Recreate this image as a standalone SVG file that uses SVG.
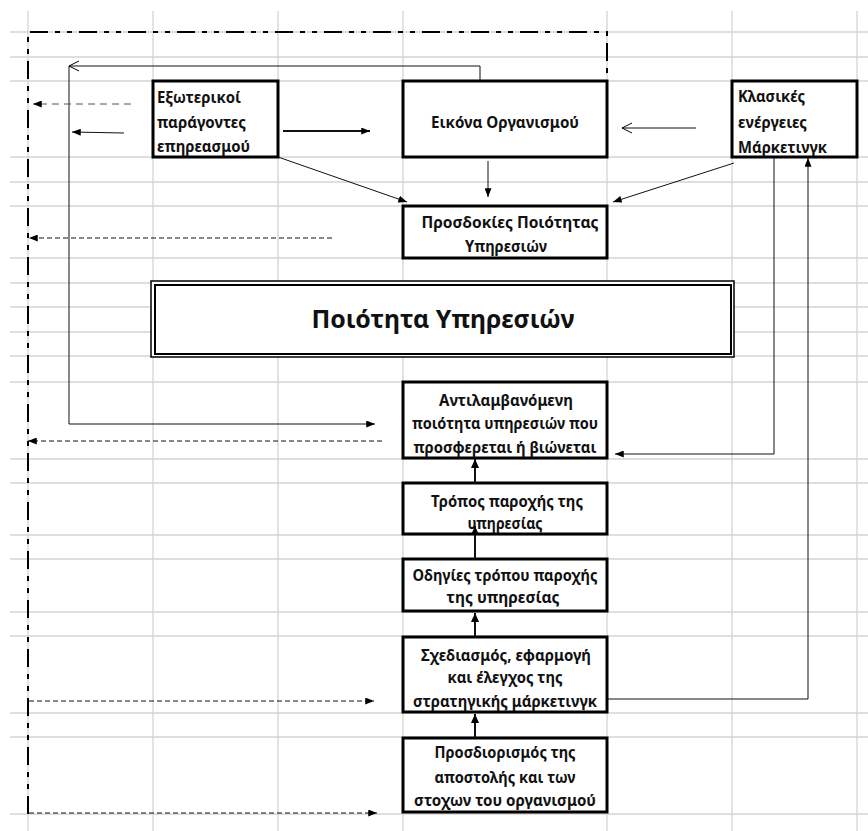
<svg xmlns="http://www.w3.org/2000/svg" width="868" height="831" viewBox="0 0 868 831">
  <style>
    .grid line { stroke: #d4d4d4; stroke-width: 1.3; }
    .box { fill: #ffffff; stroke: #000000; stroke-width: 3; }
    .t { font-family: "Noto Sans", "Open Sans", "DejaVu Sans", sans-serif; font-weight: bold; font-size: 15.5px; fill: #111111; }
    .c { text-anchor: middle; }
    .title { font-family: "Noto Sans", "Open Sans", "DejaVu Sans", sans-serif; font-weight: bold; font-size: 25px; fill: #111111; text-anchor: middle; }
    .conn { fill: none; stroke: #111111; stroke-width: 1; }
    .thick { stroke-width: 2; }
    .dash { stroke-dasharray: 5 3; }
    .dashgray { stroke: #555555; stroke-dasharray: 7 5; }
    .border { fill: none; stroke: #000000; stroke-width: 2; stroke-dasharray: 18 7 5 7 5 7; }
  </style>
  <defs>
    <marker id="arr" viewBox="0 0 10 8" refX="10" refY="4" markerWidth="9" markerHeight="7" markerUnits="userSpaceOnUse" orient="auto">
      <path d="M0,0 L10,4 L0,8 z" fill="#000000"/>
    </marker>
    <marker id="arrBig" viewBox="0 0 10 9" refX="10" refY="4.5" markerWidth="9" markerHeight="9" markerUnits="userSpaceOnUse" orient="auto">
      <path d="M0,0 L10,4.5 L0,9 z" fill="#000000"/>
    </marker>
    <marker id="open" viewBox="0 0 10 10" refX="10" refY="5" markerWidth="10" markerHeight="10" markerUnits="userSpaceOnUse" orient="auto" overflow="visible">
      <path d="M0,0 L10,5 L0,10" fill="none" stroke="#000000" stroke-width="1"/>
    </marker>
  </defs>

  <rect x="0" y="0" width="868" height="831" fill="#ffffff"/>

  <g id="grid" class="grid">
    <line x1="28" y1="11" x2="28" y2="831"/>
    <line x1="153" y1="11" x2="153" y2="831"/>
    <line x1="278" y1="11" x2="278" y2="831"/>
    <line x1="403" y1="11" x2="403" y2="831"/>
    <line x1="607" y1="11" x2="607" y2="831"/>
    <line x1="732" y1="11" x2="732" y2="831"/>
    <line x1="857" y1="11" x2="857" y2="831"/>
    <line x1="10" y1="32" x2="868" y2="32"/>
    <line x1="10" y1="57" x2="868" y2="57"/>
    <line x1="10" y1="81" x2="868" y2="81"/>
    <line x1="10" y1="157" x2="868" y2="157"/>
    <line x1="10" y1="182" x2="868" y2="182"/>
    <line x1="10" y1="206" x2="868" y2="206"/>
    <line x1="10" y1="258" x2="868" y2="258"/>
    <line x1="10" y1="283" x2="868" y2="283"/>
    <line x1="10" y1="307" x2="868" y2="307"/>
    <line x1="10" y1="332" x2="868" y2="332"/>
    <line x1="10" y1="356" x2="868" y2="356"/>
    <line x1="10" y1="382" x2="868" y2="382"/>
    <line x1="10" y1="459" x2="868" y2="459"/>
    <line x1="10" y1="483" x2="868" y2="483"/>
    <line x1="10" y1="535" x2="868" y2="535"/>
    <line x1="10" y1="559" x2="868" y2="559"/>
    <line x1="10" y1="612" x2="868" y2="612"/>
    <line x1="10" y1="636" x2="868" y2="636"/>
    <line x1="10" y1="713" x2="868" y2="713"/>
    <line x1="10" y1="737" x2="868" y2="737"/>
    <line x1="10" y1="814" x2="868" y2="814"/>
  </g>

  <g id="boundary">
    <path class="border" d="M28,814 V32 H607 V80"/>
  </g>

  <g id="connectors">
    <path class="conn" d="M480,81 V66 H69" marker-end="url(#open)"/>
    <path class="conn" d="M69,66 V424 H375" marker-end="url(#arr)"/>
    <path class="conn dashgray" d="M131,104 H33" marker-end="url(#arr)"/>
    <path class="conn" d="M124,133 L72,132" marker-end="url(#arr)"/>
    <path class="conn" style="stroke-width:1.8" d="M283,131 H370" marker-end="url(#arr)"/>
    <path class="conn" d="M278,157 L407,202" marker-end="url(#arr)"/>
    <path class="conn" d="M488,161 V197" marker-end="url(#arr)"/>
    <path class="conn" d="M696,128 H622" marker-end="url(#open)"/>
    <path class="conn" d="M734,163 L613,202" marker-end="url(#arr)"/>
    <path class="conn" d="M774,157 V454 H615" marker-end="url(#arr)"/>
    <path class="conn" d="M607,699 H808 V158" marker-end="url(#arr)"/>
    <path class="conn dash" d="M332,238 H29" marker-end="url(#arr)"/>
    <path class="conn dash" d="M382,441 H28" marker-end="url(#arr)"/>
    <path class="conn dash" d="M29,701 H374" marker-end="url(#arr)"/>
    <path class="conn dash" d="M29,813 H377" marker-end="url(#arr)"/>
  </g>

  <g id="n1">
    <rect class="box" x="153" y="81" width="125" height="76"/>
    <text class="t" x="157" y="103" textLength="84" lengthAdjust="spacingAndGlyphs">Εξωτερικοί</text>
    <text class="t" x="157" y="128" textLength="89" lengthAdjust="spacingAndGlyphs">παράγοντες</text>
    <text class="t" x="157" y="152" textLength="93" lengthAdjust="spacingAndGlyphs">επηρεασμού</text>
  </g>
  <g id="n2">
    <rect class="box" x="403" y="81" width="204" height="76"/>
    <text class="t c" x="505" y="128" textLength="148" lengthAdjust="spacingAndGlyphs">Εικόνα Οργανισμού</text>
  </g>
  <g id="n3">
    <rect class="box" x="732" y="81" width="125" height="76"/>
    <text class="t" x="738" y="102" textLength="67" lengthAdjust="spacingAndGlyphs">Κλασικές</text>
    <text class="t" x="738" y="128" textLength="69" lengthAdjust="spacingAndGlyphs">ενέργειες</text>
    <text class="t" x="738" y="153" textLength="89" lengthAdjust="spacingAndGlyphs">Μάρκετινγκ</text>
  </g>
  <g id="n4">
    <rect class="box" x="403" y="206" width="204" height="52"/>
    <text class="t c" x="510" y="228" textLength="177" lengthAdjust="spacingAndGlyphs">Προσδοκίες Ποιότητας</text>
    <text class="t c" x="506" y="252" textLength="82" lengthAdjust="spacingAndGlyphs">Υπηρεσιών</text>
  </g>
  <g id="n5">
    <rect x="151" y="281" width="583" height="76" fill="#ffffff" stroke="#000000" stroke-width="1.5"/>
    <rect x="155" y="285" width="576" height="69" fill="none" stroke="#000000" stroke-width="2"/>
    <text class="title" x="443" y="328" textLength="263" lengthAdjust="spacingAndGlyphs">Ποιότητα Υπηρεσιών</text>
  </g>
  <g id="n6">
    <rect class="box" x="403" y="382" width="204" height="76"/>
    <text class="t c" x="506" y="406" textLength="134" lengthAdjust="spacingAndGlyphs">Αντιλαμβανόμενη</text>
    <text class="t c" x="505" y="429" textLength="186" lengthAdjust="spacingAndGlyphs">ποιότητα υπηρεσιών που</text>
    <text class="t c" x="505" y="453" textLength="183" lengthAdjust="spacingAndGlyphs">προσφερεται ή βιώνεται</text>
  </g>
  <g id="n7">
    <rect class="box" x="403" y="483" width="204" height="51"/>
    <text class="t c" x="507" y="507" textLength="152" lengthAdjust="spacingAndGlyphs">Τρόπος παροχής της</text>
    <text class="t c" x="505" y="529" textLength="75" lengthAdjust="spacingAndGlyphs">υπηρεσίας</text>
  </g>
  <g id="n8">
    <rect class="box" x="403" y="559" width="204" height="52"/>
    <text class="t c" x="505" y="581" textLength="185" lengthAdjust="spacingAndGlyphs">Οδηγίες τρόπου παροχής</text>
    <text class="t c" x="503" y="603" textLength="113" lengthAdjust="spacingAndGlyphs">της υπηρεσίας</text>
  </g>
  <g id="n9">
    <rect class="box" x="403" y="637" width="204" height="75"/>
    <text class="t c" x="506" y="661" textLength="170" lengthAdjust="spacingAndGlyphs">Σχεδιασμός, εφαρμογή</text>
    <text class="t c" x="505" y="683" textLength="115" lengthAdjust="spacingAndGlyphs">και έλεγχος της</text>
    <text class="t c" x="505" y="707" textLength="184" lengthAdjust="spacingAndGlyphs">στρατηγικής μάρκετινγκ</text>
  </g>
  <g id="n10">
    <rect class="box" x="403" y="738" width="204" height="74"/>
    <text class="t c" x="505" y="758" textLength="141" lengthAdjust="spacingAndGlyphs">Προσδιορισμός της</text>
    <text class="t c" x="505" y="783" textLength="141" lengthAdjust="spacingAndGlyphs">αποστολής και των</text>
    <text class="t c" x="505" y="806" textLength="182" lengthAdjust="spacingAndGlyphs">στοχων του οργανισμού</text>
  </g>

  <g id="vertical-arrows">
    <path class="conn thick" d="M475,483 V459" marker-end="url(#arrBig)"/>
    <path class="conn thick" d="M475,559 V526" marker-end="url(#arrBig)"/>
    <path class="conn thick" d="M475,637 V613" marker-end="url(#arrBig)"/>
    <path class="conn thick" d="M475,738 V714" marker-end="url(#arrBig)"/>
  </g>
</svg>
